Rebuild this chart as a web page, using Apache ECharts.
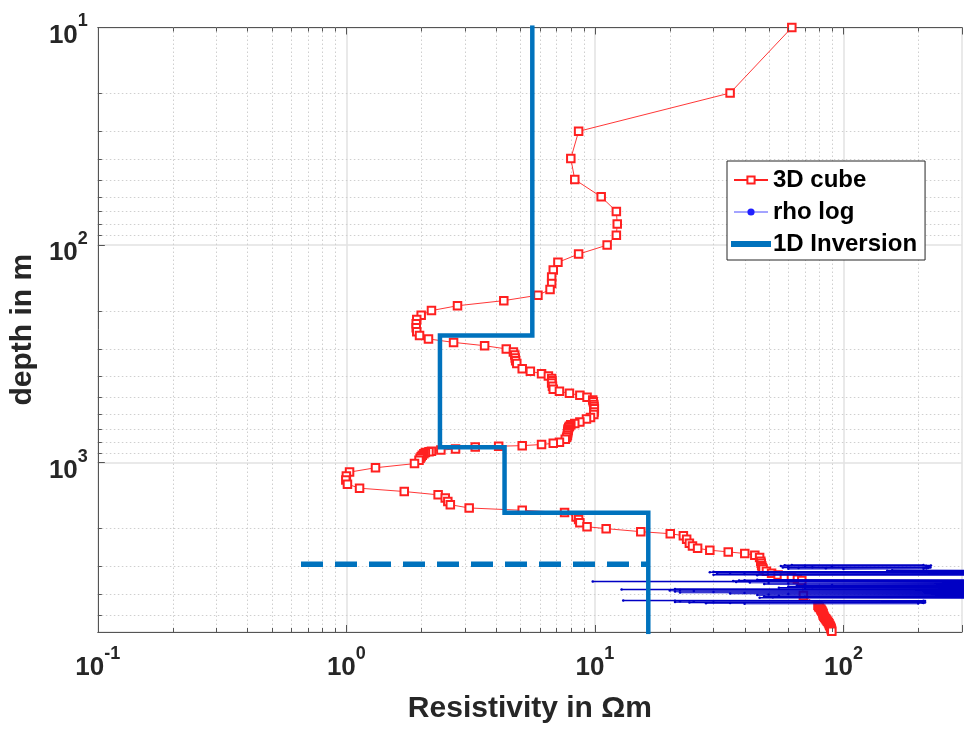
<!DOCTYPE html>
<html><head><meta charset="utf-8">
<script src="https://cdn.jsdelivr.net/npm/echarts@6/dist/echarts.min.js"></script>
<style>html,body{margin:0;padding:0;background:#fff;}#c{width:965px;height:729px;}</style>
</head><body><div id="c"></div>
<script>
// ---- data ----
const cubeRes = [62,35,8.6,8.0,8.3,10.6,12.2,12.3,12.2,11.2,8.6,7.1,6.8,6.7,6.7,6.6,5.9,4.3,2.8,2.2,2.0,1.92,1.91,1.91,1.92,1.97,2.14,2.7,3.6,4.4,4.7,4.76,4.78,4.8,4.85,5.1,5.5,6.1,6.5,6.7,6.72,6.7,6.75,6.8,7.2,7.9,8.7,9.3,9.8,9.85,9.9,9.92,9.95,9.93,9.9,9.6,9.25,8.7,8.3,8.0,7.9,7.85,7.8,7.8,7.78,7.76,7.75,7.7,7.6,7.2,6.8,6.1,5.1,4.1,3.3,2.75,2.4,2.2,2.15,2.08,2.05,2.02,2.0,1.98,1.96,1.88,1.31,1.03,1.0,0.995,1.01,1.13,1.71,2.34,2.5,2.56,2.62,3.12,5.1,7.55,8.4,8.6,8.7,9.3,11.1,15.3,20.1,22.7,23.4,24.0,24.7,25.9,29,34.4,40.1,44,46,46.5,46.7,46.9,47.2,47.5,49,51.4,54.6,57.9,61.8,65.3,68,69,79,79.5,80,81,81.5,82,82.5,82.8,83,83.5,84,84.8,85.5,86.2,87,87.5,88,88.5,89,89.2,89.5,89.8,90,90];
const cubeDepth = [10,20,30,40,50,60,70,80,90,100,110,120,130,140,150,160,170,180,190,200,210,220,230,240,250,260,270,280,290,300,310,320,330,340,350,370,380,390,400,410,420,430,445,460,470,480,490,500,515,525,540,552,565,585,600,620,630,650,660,670,680,690,700,710,720,735,750,765,780,805,815,825,835,840,848,865,875,885,890,898,910,925,940,955,975,1010,1055,1105,1150,1200,1255,1310,1357,1405,1455,1508,1560,1615,1655,1695,1775,1825,1890,1970,2010,2075,2120,2165,2250,2345,2415,2475,2525,2570,2615,2660,2725,2840,2900,2975,3030,3080,3155,3225,3280,3325,3375,3430,3480,4075,4525,4580,4635,4700,4765,4820,4880,4950,5020,5080,5145,5220,5290,5350,5420,5500,5580,5650,5715,5800,5875,5950,6020,6190];

const rhoBandA = [[62,2950],[210,2956],[58,2962],[225,2968],[70,2974],[215,2980],[56,2986],[220,2992],[90,2998],[222,3004],[60,3010],[218,3016],[75,3022],[224,3028],[57,3034],[212,3040],[66,3046],[220,3052],[85,3058],[216,3064],[60,3070],[210,3076],[100,3082]];
const rhoBandB = [[157,3120],[400,3128],[150,3136],[380,3144],[160,3152],[400,3160],[30,3170],[400,3180],[29,3190],[420,3200],[35,3210],[390,3220],[31,3230],[410,3240],[40,3250],[400,3260],[30,3270],[380,3280],[45,3290]];
const rhoBandC = [[45,3450],[400,3458],[40,3466],[420,3474],[38,3482],[400,3490],[36,3498],[390,3506],[9.8,3520],[410,3528],[37,3536],[400,3544],[42,3552],[420,3560],[50,3570],[400,3580],[60,3590],[410,3600],[48,3610],[400,3620],[70,3630],[400,3640],[90,3650],[420,3660],[65,3670],[400,3680],[80,3690],[410,3700],[60,3712],[400,3724],[75,3736],[420,3748],[55,3760],[410,3772],[70,3784],[420,3796]];
const rhoBandD = [[21,3810],[400,3820],[12.8,3830],[410,3840],[22,3850],[400,3860],[20,3870],[420,3880],[25,3890],[400,3900],[21,3910],[390,3920],[30,3930],[410,3940],[22,3950],[400,3960],[40,3970],[420,3980],[35,3990],[400,4000],[60,4012],[400,4024],[50,4036],[420,4048],[45,4060],[400,4072],[55,4084],[410,4096],[48,4108],[400,4120],[70,4132],[420,4144],[52,4156],[400,4168],[46,4180],[410,4192]];
const rhoBandE = [[13,4300],[210,4308],[21,4316],[213,4324],[22,4332],[205,4340],[25,4348],[212,4356],[21,4364],[200,4372],[30,4380],[213,4388],[24,4396],[208,4404],[35,4412],[210,4420],[28,4428],[200,4436],[40,4444]];

const invLayerRes = [5.6, 2.38, 4.33, 16.4];
const invLayerTop = [10, 260, 850, 1700];
const invBottom = 6000;
const doiDepth = 2930;
const doiRange = [0.657, 16.4];

const xTicks = [0.1, 1, 10, 100];
const yTicks = [10, 100, 1000];
const xMin = 0.1, xMax = 300, yMin = 10, yMax = 6000;

(function () {
const cubeData = cubeRes.map((r, i) => [r, cubeDepth[i]]);
const invData = [];
invLayerRes.forEach((r, i) => {
  invData.push([r, invLayerTop[i]]);
  invData.push([r, i < invLayerRes.length - 1 ? invLayerTop[i + 1] : invBottom]);
});
const doiData = [[doiRange[0], doiDepth], [doiRange[1], doiDepth]];

const FONT = '"Liberation Sans", Arial, Helvetica, sans-serif';
const AX = '#555555';
function fmt(v) {
  const l = Math.log10(v), e = Math.round(l);
  if (Math.abs(l - e) > 1e-6) return '';
  return '{b|10}{s|' + e + '}';
}
const rich = {
  b: { fontSize: 26, fontWeight: 'bold', color: '#262626', fontFamily: FONT, lineHeight: 36, verticalAlign: 'bottom' },
  s: { fontSize: 18, fontWeight: 'bold', color: '#262626', fontFamily: FONT, lineHeight: 18, verticalAlign: 'top' }
};

const RHO = '#0000C4';
const rhoStyle = (d) => ({
  name: 'rho log', type: 'line', data: d, symbol: 'circle', symbolSize: 2.5,
  lineStyle: { color: RHO, width: 1.5 }, itemStyle: { color: RHO },
  animation: false, silent: true, z: 3
});

const chart = echarts.init(document.getElementById('c'), null, { renderer: 'canvas' });
const option = {
  animation: false,
  backgroundColor: '#ffffff',
  grid: { left: 97.5, top: 27.5, width: 873, height: 611, containLabel: false },
  legend: {
    data: [
      { name: '3D cube' },
      { name: 'rho log', lineStyle: { width: 1, color: '#4848ff' }, itemStyle: { color: '#2020ff' } },
      { name: '1D Inversion', lineStyle: { width: 6 }, itemStyle: { color: 'rgba(0,0,0,0)', borderColor: 'rgba(0,0,0,0)' } }
    ],
    orient: 'vertical', left: 727, top: 161,
    itemWidth: 34, itemHeight: 9, itemGap: 8,
    padding: [7, 8, 4, 4],
    backgroundColor: '#ffffff', borderColor: '#262626', borderWidth: 1,
    textStyle: { fontSize: 24, fontWeight: 'bold', color: '#000', fontFamily: FONT },
    selectedMode: false
  },
  xAxis: [{
    type: 'log', logBase: 10, min: xMin, max: xMax,
    name: 'Resistivity in Ωm', nameLocation: 'middle', nameGap: 62,
    nameTextStyle: { fontSize: 30, fontWeight: 'bold', color: '#262626', fontFamily: FONT },
    axisLine: { show: true, lineStyle: { color: AX, width: 1 } },
    axisTick: { show: true, inside: true, length: 7, lineStyle: { color: AX } },
    axisLabel: { formatter: fmt, rich: rich, margin: 13 },
    splitLine: { show: true, lineStyle: { color: '#e2e2e2', width: 1.5 } }
  }, {
    type: 'log', logBase: 10, min: xMin, max: xMax, position: 'top',
    axisLine: { show: true, lineStyle: { color: AX, width: 1 } },
    axisTick: { show: true, inside: true, length: 7, lineStyle: { color: AX } },
    axisLabel: { show: false }, splitLine: { show: false }
  }],
  yAxis: [{
    type: 'log', logBase: 10, min: yMin, max: yMax, inverse: true,
    name: 'depth in m', nameLocation: 'middle', nameGap: 58, nameRotate: 90,
    nameTextStyle: { fontSize: 30, fontWeight: 'bold', color: '#262626', fontFamily: FONT },
    axisLine: { show: true, lineStyle: { color: AX, width: 1 } },
    axisTick: { show: true, inside: true, length: 7, lineStyle: { color: AX } },
    axisLabel: { formatter: fmt, rich: rich, margin: 10, padding: [6, 0, 0, 0] },
    splitLine: { show: true, lineStyle: { color: '#e2e2e2', width: 1.5 } }
  }],
  series: [
    {
      name: '3D cube', type: 'line', data: cubeData,
      symbol: 'emptyRect', symbolSize: 7.5, showAllSymbol: true,
      lineStyle: { color: '#ff2020', width: 0.9 },
      itemStyle: { color: '#ff2020', borderColor: '#ff2020', borderWidth: 1 },
      z: 2, silent: true
    },
    rhoStyle(rhoBandA), rhoStyle(rhoBandB), rhoStyle(rhoBandC), rhoStyle(rhoBandD), rhoStyle(rhoBandE),
    {
      name: '1D Inversion', type: 'line', data: invData, symbol: 'none',
      lineStyle: { color: '#0072BD', width: 4.5, cap: 'square', join: 'miter' },
      itemStyle: { color: '#0072BD' }, z: 4, silent: true
    },
    {
      name: 'DOI', type: 'line', data: doiData, symbol: 'none',
      lineStyle: { color: '#0072BD', width: 5.5, type: [22, 12] },
      z: 4, silent: true
    }
  ]
};
chart.setOption(option);

function minors(lo, hi) {
  const out = [];
  for (let e = Math.floor(Math.log10(lo)); e <= Math.ceil(Math.log10(hi)); e++) {
    for (let k = 2; k <= 9; k++) {
      const v = k * Math.pow(10, e);
      if (v > lo && v < hi) out.push(v);
    }
  }
  return out;
}
const pL = chart.convertToPixel({ xAxisIndex: 0 }, xMin);
const pR = chart.convertToPixel({ xAxisIndex: 0 }, xMax);
const pT = chart.convertToPixel({ yAxisIndex: 0 }, yMin);
const pB = chart.convertToPixel({ yAxisIndex: 0 }, yMax);
const els = [];
const dot = { stroke: '#cfcfcf', lineWidth: 1, lineDash: [1.5, 2.5] };
const tk = { stroke: AX, lineWidth: 1 };
minors(xMin, xMax).forEach(v => {
  const p = Math.round(chart.convertToPixel({ xAxisIndex: 0 }, v)) + 0.5;
  els.push({ type: 'line', silent: true, z: 1, shape: { x1: p, y1: pT, x2: p, y2: pB }, style: dot });
  els.push({ type: 'line', silent: true, z: 10, shape: { x1: p, y1: pB, x2: p, y2: pB - 4 }, style: tk });
  els.push({ type: 'line', silent: true, z: 10, shape: { x1: p, y1: pT, x2: p, y2: pT + 4 }, style: tk });
});
minors(yMin, yMax).forEach(v => {
  const p = Math.round(chart.convertToPixel({ yAxisIndex: 0 }, v)) + 0.5;
  els.push({ type: 'line', silent: true, z: 1, shape: { x1: pL, y1: p, x2: pR, y2: p }, style: dot });
  els.push({ type: 'line', silent: true, z: 10, shape: { x1: pL, y1: p, x2: pL + 4, y2: p }, style: tk });
});
chart.setOption({ graphic: { elements: els } });
})();
</script>
</body></html>
